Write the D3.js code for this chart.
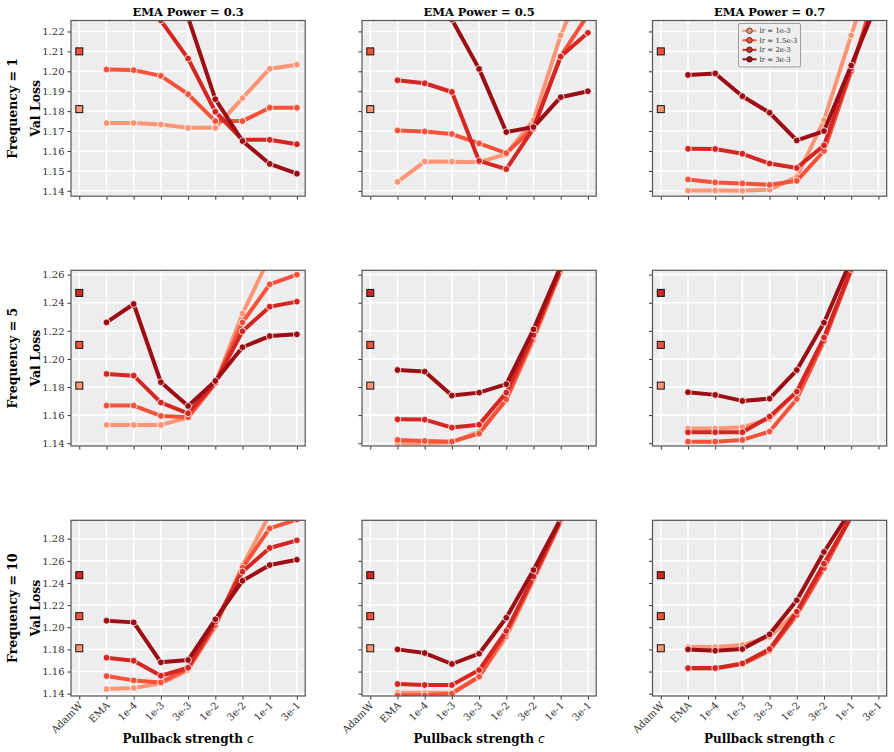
<!DOCTYPE html>
<html>
<head>
<meta charset="utf-8">
<script src="https://cdn.jsdelivr.net/npm/d3@7"></script>
<style>
  body { margin: 0; background: #fff; }
  svg text { font-family: "DejaVu Serif", serif; }
</style>
</head>
<body>
<svg id="chart" width="894" height="752"></svg>
<script>
var categories = ["AdamW", "EMA", "1e-4", "1e-3", "3e-3", "1e-2", "3e-2", "1e-1", "3e-1"];
var lrLabels = ["lr = 1e-3", "lr = 1.5e-3", "lr = 2e-3", "lr = 3e-3"];
var emaPowers = ["0.3", "0.5", "0.7"];
var frequencies = ["1", "5", "10"];

// AdamW baseline per lr (3e-3 is off the chart)
var adamw = [1.181, 1.210, 1.247, null];

// per-row y ticks
var yTicks1 = [1.14, 1.15, 1.16, 1.17, 1.18, 1.19, 1.20, 1.21, 1.22];
var yTicks5 = [1.14, 1.16, 1.18, 1.20, 1.22, 1.24, 1.26];
var yTicks10 = [1.14, 1.16, 1.18, 1.20, 1.22, 1.24, 1.26, 1.28];

// val loss for EMA .. 3e-1, one row per lr
var f1_p03 = [
  [1.174, 1.174, 1.1733, 1.1716, 1.1716, 1.1865, 1.2013, 1.2033],
  [1.2009, 1.2006, 1.1977, 1.1885, 1.175, 1.175, 1.1817, 1.1817],
  [1.245, 1.240, 1.2255, 1.2064, 1.1797, 1.1656, 1.1656, 1.1634],
  [1.27, 1.265, 1.255, 1.227, 1.186, 1.165, 1.1535, 1.1486]
];
var f1_p05 = [
  [1.1445, 1.1547, 1.1546, 1.1544, 1.1584, 1.1755, 1.218, 1.25],
  [1.1703, 1.1698, 1.1685, 1.1638, 1.1589, 1.1717, 1.2075, 1.2284],
  [1.1955, 1.194, 1.1896, 1.155, 1.1509, 1.1713, 1.2074, 1.2193],
  [1.235, 1.232, 1.226, 1.2012, 1.1695, 1.172, 1.187, 1.190]
];
var f1_p07 = [
  [1.1401, 1.1401, 1.140, 1.1406, 1.147, 1.1755, 1.218, 1.26],
  [1.1457, 1.1442, 1.1437, 1.143, 1.145, 1.160, 1.200, 1.245],
  [1.1611, 1.161, 1.1586, 1.1537, 1.1515, 1.1628, 1.2015, 1.240],
  [1.1982, 1.1989, 1.1875, 1.1792, 1.1653, 1.170, 1.2029, 1.236]
];
var f5_p03 = [
  [1.153, 1.153, 1.153, 1.1582, 1.1826, 1.2322, 1.2726, 1.285],
  [1.1668, 1.1668, 1.1594, 1.1584, 1.1826, 1.226, 1.2531, 1.260],
  [1.1893, 1.1881, 1.1689, 1.1613, 1.1831, 1.2197, 1.2372, 1.2408],
  [1.226, 1.2391, 1.1834, 1.1665, 1.1843, 1.2083, 1.2163, 1.2175]
];
var f5_p05 = [
  [1.140, 1.140, 1.1407, 1.1483, 1.1705, 1.2135, 1.262, 1.30],
  [1.1423, 1.1416, 1.1411, 1.1468, 1.1713, 1.2159, 1.263, 1.30],
  [1.157, 1.1568, 1.1511, 1.1532, 1.176, 1.217, 1.264, 1.30],
  [1.1921, 1.191, 1.1739, 1.176, 1.182, 1.2211, 1.266, 1.30]
];
var f5_p07 = [
  [1.1504, 1.1504, 1.1513, 1.1573, 1.1767, 1.2147, 1.264, 1.31],
  [1.1411, 1.1411, 1.1423, 1.1483, 1.1715, 1.2128, 1.263, 1.31],
  [1.1478, 1.1478, 1.1478, 1.1589, 1.1767, 1.2152, 1.264, 1.31],
  [1.1763, 1.1744, 1.1701, 1.1717, 1.1921, 1.2258, 1.2707, 1.31]
];
var f10_p03 = [
  [1.1442, 1.1451, 1.1493, 1.1613, 1.2005, 1.2556, 1.302, 1.32],
  [1.1559, 1.152, 1.1502, 1.1628, 1.202, 1.2538, 1.2893, 1.2972],
  [1.1725, 1.1698, 1.1562, 1.1634, 1.205, 1.2502, 1.2716, 1.2785],
  [1.2059, 1.2044, 1.1683, 1.1704, 1.2071, 1.242, 1.2562, 1.261]
];
var f10_p05 = [
  [1.1408, 1.1408, 1.1408, 1.1553, 1.1914, 1.2427, 1.295, 1.34],
  [1.1385, 1.1385, 1.140, 1.1553, 1.1945, 1.2442, 1.296, 1.34],
  [1.1487, 1.1478, 1.1478, 1.1613, 1.1966, 1.2457, 1.297, 1.34],
  [1.18, 1.1767, 1.1668, 1.1761, 1.2086, 1.2517, 1.298, 1.34]
];
var f10_p07 = [
  [1.1821, 1.1821, 1.1839, 1.1914, 1.214, 1.2574, 1.30, 1.36],
  [1.1628, 1.1628, 1.1667, 1.1788, 1.211, 1.2532, 1.30, 1.36],
  [1.1631, 1.1631, 1.1673, 1.1803, 1.214, 1.2574, 1.30, 1.36],
  [1.18, 1.1788, 1.1803, 1.1936, 1.2243, 1.268, 1.306, 1.36]
];

var colors = ["#fc9575", "#f4523a", "#d42622", "#9c0e15"];

var rows = [
  { ticks: yTicks1, domain: [1.1373, 1.2255], panels: [f1_p03, f1_p05, f1_p07] },
  { ticks: yTicks5, domain: [1.138, 1.2631], panels: [f5_p03, f5_p05, f5_p07] },
  { ticks: yTicks10, domain: [1.1379, 1.2966], panels: [f10_p03, f10_p05, f10_p07] }
];

var colLeft = [71, 362, 652.5],
  rowTop = [20.5, 270.3, 520.3],
  pw = 234.2,
  ph = 175.7;

var svg = d3.select("#chart");

var x = d3.scaleLinear().domain([-0.305, 8.305]).range([0, pw]);

rows.forEach(function(row, ri) {
  var y = d3.scaleLinear().domain(row.domain).range([ph, 0]);

  row.panels.forEach(function(series, ci) {
    var g = svg
      .append("g")
      .attr("transform", "translate(" + colLeft[ci] + "," + rowTop[ri] + ")");

    var clipId = "clip-" + ri + "-" + ci;
    g.append("clipPath")
      .attr("id", clipId)
      .append("rect")
      .attr("width", pw)
      .attr("height", ph);

    g.append("rect")
      .attr("width", pw)
      .attr("height", ph)
      .attr("fill", "#ededed");

    // grid
    g.selectAll(".hgrid")
      .data(row.ticks)
      .enter()
      .append("line")
      .attr("x1", 0)
      .attr("x2", pw)
      .attr("y1", function(d) { return y(d); })
      .attr("y2", function(d) { return y(d); })
      .attr("stroke", "#fff")
      .attr("stroke-width", 1.6);
    g.selectAll(".vgrid")
      .data(categories)
      .enter()
      .append("line")
      .attr("x1", function(d, i) { return x(i); })
      .attr("x2", function(d, i) { return x(i); })
      .attr("y1", 0)
      .attr("y2", ph)
      .attr("stroke", "#fff")
      .attr("stroke-width", 1.6);

    // axes
    var yAxis = d3
      .axisLeft(y)
      .tickValues(row.ticks)
      .tickSize(3.5)
      .tickPadding(3)
      .tickFormat(ci === 0 ? d3.format(".2f") : "");
    var ya = g.append("g").call(yAxis);
    ya.select(".domain").remove();
    ya.selectAll("line").attr("stroke", "#333");
    ya.selectAll("text")
      .attr("fill", "#333")
      .style("font-size", "10px")
      .style("font-family", "DejaVu Serif, serif");

    var xAxis = d3
      .axisBottom(x)
      .tickValues(d3.range(categories.length))
      .tickSize(3.5)
      .tickFormat(ri === 2 ? function(i) { return categories[i]; } : "");
    var xa = g.append("g").attr("transform", "translate(0," + ph + ")").call(xAxis);
    xa.select(".domain").remove();
    xa.selectAll("line").attr("stroke", "#333");
    xa.selectAll("text")
      .attr("fill", "#333")
      .style("font-size", "10px")
      .style("font-family", "DejaVu Serif, serif")
      .attr("text-anchor", "end")
      .attr("dy", null)
      .attr("y", 0)
      .attr("transform", "translate(3.5,10) rotate(-45)");

    var plot = g.append("g").attr("clip-path", "url(#" + clipId + ")");

    // AdamW squares
    adamw.forEach(function(v, k) {
      if (v === null) return;
      plot.append("rect")
        .attr("x", x(0) - 3.5)
        .attr("y", y(v) - 3.5)
        .attr("width", 7)
        .attr("height", 7)
        .attr("fill", colors[k])
        .attr("stroke", "#111")
        .attr("stroke-width", 1);
    });

    var line = d3
      .line()
      .x(function(d, i) { return x(i + 1); })
      .y(function(d) { return y(d); });

    series.forEach(function(vals, k) {
      plot.append("path")
        .datum(vals)
        .attr("d", line)
        .attr("fill", "none")
        .attr("stroke", colors[k])
        .attr("stroke-width", 4)
        .attr("stroke-linejoin", "round");
      plot.selectAll(".pt" + k)
        .data(vals)
        .enter()
        .append("circle")
        .attr("cx", function(d, i) { return x(i + 1); })
        .attr("cy", function(d) { return y(d); })
        .attr("r", 3.4)
        .attr("fill", colors[k])
        .attr("stroke", "#fff")
        .attr("stroke-width", 0.8);
    });

    // frame
    g.append("rect")
      .attr("width", pw)
      .attr("height", ph)
      .attr("fill", "none")
      .attr("stroke", "#555")
      .attr("stroke-width", 1.2);

    if (ri === 0) {
      g.append("text")
        .attr("x", pw / 2)
        .attr("y", -5)
        .attr("text-anchor", "middle")
        .style("font-size", "11.5px")
        .style("font-weight", "bold")
        .text("EMA Power = " + emaPowers[ci]);
    }

    if (ri === 2) {
      var xl = g.append("text")
        .attr("x", pw / 2)
        .attr("y", ph + 47.5)
        .attr("text-anchor", "middle")
        .style("font-size", "12px")
        .style("font-weight", "bold");
      xl.append("tspan").text("Pullback strength ");
      xl.append("tspan")
        .style("font-family", "DejaVu Sans, sans-serif")
        .style("font-style", "italic")
        .style("font-weight", "normal")
        .text("c");
    }

    if (ci === 0) {
      g.append("text")
        .attr("transform", "translate(-31," + ph / 2 + ") rotate(-90)")
        .attr("text-anchor", "middle")
        .style("font-size", "12.5px")
        .style("font-weight", "bold")
        .text("Val Loss");
      g.append("text")
        .attr("transform", "translate(-54," + ph / 2 + ") rotate(-90)")
        .attr("text-anchor", "middle")
        .style("font-size", "12.5px")
        .style("font-weight", "bold")
        .text("Frequency = " + frequencies[ri]);
    }

    if (ri === 0 && ci === 2) {
      var lg = g.append("g").attr("transform", "translate(86,3)");
      lg.append("rect")
        .attr("width", 62)
        .attr("height", 43.5)
        .attr("rx", 1.5)
        .attr("fill", "#ededed")
        .attr("fill-opacity", 0.9)
        .attr("stroke", "#888")
        .attr("stroke-width", 0.8);
      lrLabels.forEach(function(lab, k) {
        var ly = 7.3 + k * 9.5;
        lg.append("line")
          .attr("x1", 4)
          .attr("x2", 18)
          .attr("y1", ly)
          .attr("y2", ly)
          .attr("stroke", colors[k])
          .attr("stroke-width", 2);
        lg.append("circle")
          .attr("cx", 11)
          .attr("cy", ly)
          .attr("r", 2.8)
          .attr("fill", colors[k])
          .attr("stroke", "#222")
          .attr("stroke-width", 0.8);
        lg.append("text")
          .attr("x", 21)
          .attr("y", ly + 2.4)
          .style("font-size", "7px")
          .attr("fill", "#333")
          .text(lab);
      });
    }
  });
});
</script>
</body>
</html>
